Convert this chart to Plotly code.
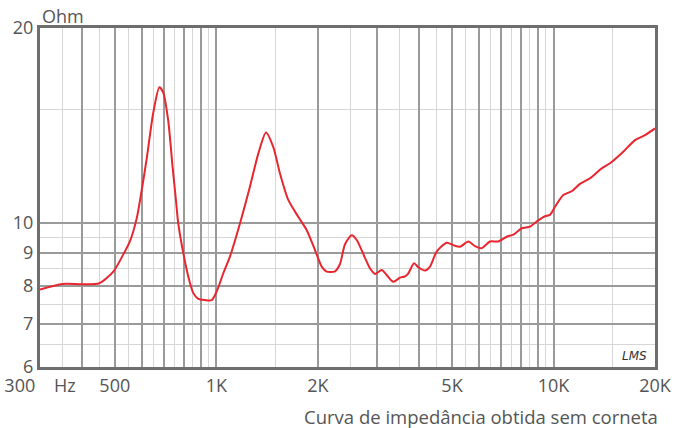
import plotly.graph_objects as go

freq = [300, 350, 400, 450, 495, 530, 555, 581, 601, 622, 650, 678, 696, 720, 742,
        759, 771, 798, 826, 855, 884, 925, 969, 1003, 1049, 1098, 1176, 1259, 1332,
        1404, 1476, 1544, 1635, 1750, 1853, 1962, 2054, 2125, 2249, 2327, 2408, 2521,
        2609, 2760, 2856, 2955, 3093, 3201, 3348, 3505, 3627, 3711, 3859, 3972, 4159,
        4303, 4503, 4825, 5045, 5284, 5590, 5850, 6124, 6482, 6862, 7265, 7599, 8048,
        8517, 9015, 9436, 9761, 10104, 10692, 11321, 11981, 12832, 13898, 14707,
        16104, 17446, 18682, 20000]
impedance = [7.9, 8.06, 8.05, 8.08, 8.42, 8.95, 9.39, 10.19, 11.25, 12.6, 14.79, 16.2, 15.9,
             14.4, 12.2, 10.86, 10.0, 9.0, 8.27, 7.8, 7.64, 7.61, 7.61, 7.85, 8.37, 8.89,
             10.0, 11.4, 12.8, 13.8, 13.1, 11.94, 10.86, 10.23, 9.76, 9.09, 8.57, 8.42,
             8.43, 8.65, 9.28, 9.58, 9.42, 8.84, 8.52, 8.35, 8.47, 8.32, 8.12, 8.24, 8.28,
             8.37, 8.67, 8.55, 8.45, 8.57, 9.04, 9.33, 9.25, 9.2, 9.37, 9.22, 9.15, 9.37,
             9.37, 9.53, 9.6, 9.82, 9.88, 10.1, 10.25, 10.3, 10.6, 11.05, 11.2, 11.5,
             11.73, 12.15, 12.37, 12.89, 13.43, 13.67, 14.0]

x_major = [300, 400, 500, 600, 700, 800, 900, 1000, 2000, 3000, 4000, 5000, 6000,
           7000, 8000, 9000, 10000, 20000]
x_major_text = ["300\u00a0\u00a0\u00a0\u00a0Hz", "", "500", "", "", "", "", "1K", "2K", "", "",
                "5K", "", "", "", "", "10K", "20K"]
x_minor = [350, 450, 550, 650, 750, 850, 950, 1500, 2500, 3500, 4500, 5500, 6500,
           7500, 8500, 9500, 15000]
y_major = [6, 7, 8, 9, 10, 20]
y_major_text = ["6", "7", "8", "9", "10", "20"]
y_minor = [6.5, 7.5, 8.5, 9.5, 15]

font_family = "Open Sans, DejaVu Sans, sans-serif"
text_color = "#555555"

fig = go.Figure()
fig.add_trace(go.Scatter(
    x=freq, y=impedance, mode="lines",
    line=dict(color="#e8262f", width=2, shape="spline", smoothing=0.7),
    hoverinfo="skip", showlegend=False,
))

fig.update_layout(
    width=685, height=428,
    margin=dict(l=40, r=30, t=28, b=61),
    paper_bgcolor="white", plot_bgcolor="white",
    font=dict(family=font_family, color=text_color, size=18),
    xaxis=dict(
        type="log", range=[2.4771213, 4.30103], automargin=False,
        tickmode="array", tickvals=x_major, ticktext=x_major_text,
        showgrid=True, gridcolor="#9a9a9a", gridwidth=1.6,
        minor=dict(tickmode="array", tickvals=x_minor, showgrid=True,
                   gridcolor="#d6d6d6", gridwidth=1),
        showline=True, linecolor="#6e6e6e", linewidth=3, mirror=True,
        ticks="", zeroline=False, ticklabelstandoff=0,
        tickfont=dict(size=18, color=text_color),
    ),
    yaxis=dict(
        type="log", range=[0.7781513, 1.30103], automargin=False,
        tickmode="array", tickvals=y_major, ticktext=y_major_text,
        showgrid=True, gridcolor="#9a9a9a", gridwidth=1.6,
        minor=dict(tickmode="array", tickvals=y_minor, showgrid=True,
                   gridcolor="#d6d6d6", gridwidth=1),
        showline=True, linecolor="#6e6e6e", linewidth=3, mirror=True,
        ticks="", zeroline=False, ticklabelstandoff=0,
        tickfont=dict(size=18, color=text_color),
    ),
    annotations=[
        dict(text="Ohm", xref="paper", yref="paper", x=0, y=1, xanchor="left",
             yanchor="bottom", showarrow=False, xshift=0, yshift=-2,
             font=dict(size=18, color=text_color)),
        dict(text="Curva de impedância obtida sem corneta", xref="paper", yref="paper",
             x=1, y=0, xanchor="right", yanchor="top", showarrow=False, xshift=5,
             yshift=-35, font=dict(size=18.5, color=text_color)),
        dict(text="<i>LMS</i>", xref="paper", yref="paper", x=1, y=0, xanchor="right",
             yanchor="bottom", showarrow=False, xshift=-6, yshift=2,
             font=dict(size=12, color="#333333", family="DejaVu Sans")),
    ],
)

fig.write_html("out.html", config={"displayModeBar": False},
               post_script="document.body.style.margin='0px';document.body.style.overflow='hidden';")
